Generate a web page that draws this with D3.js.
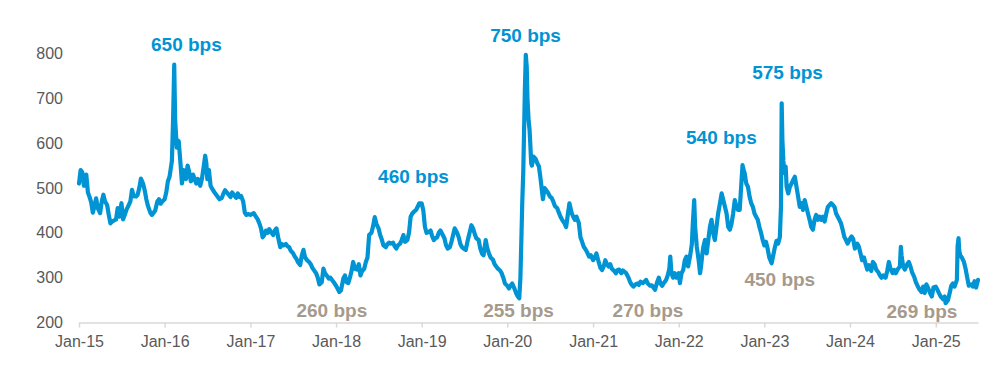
<!DOCTYPE html>
<html>
<head>
<meta charset="utf-8">
<script src="https://cdn.jsdelivr.net/npm/d3@7"></script>
<style>
  html, body { margin: 0; padding: 0; background: #ffffff; }
  svg { display: block; }
</style>
</head>
<body>
<svg id="chart" width="1000" height="375"></svg>
<script>
// ---------- DATA ----------
const dates = [
"2015-01-01","2015-01-08","2015-01-15","2015-01-22","2015-02-01","2015-02-08","2015-02-15","2015-02-22",
"2015-03-01","2015-03-08","2015-03-15","2015-03-22","2015-04-01","2015-04-08","2015-04-15","2015-04-22",
"2015-05-01","2015-05-08","2015-05-15","2015-05-22","2015-06-01","2015-06-08","2015-06-15","2015-06-22",
"2015-07-01","2015-07-08","2015-07-15","2015-07-22","2015-08-01","2015-08-08","2015-08-15","2015-08-22",
"2015-09-01","2015-09-08","2015-09-15","2015-09-22","2015-10-01","2015-10-08","2015-10-15","2015-10-22",
"2015-11-01","2015-11-08","2015-11-15","2015-11-22","2015-12-01","2015-12-08","2015-12-15","2015-12-22",
"2016-01-01","2016-01-08","2016-01-15","2016-01-22","2016-02-01","2016-02-06","2016-02-11","2016-02-15","2016-02-22",
"2016-03-01","2016-03-08","2016-03-15","2016-03-22","2016-04-01","2016-04-08","2016-04-15","2016-04-22",
"2016-05-01","2016-05-08","2016-05-15","2016-05-22","2016-06-01","2016-06-08","2016-06-15","2016-06-22","2016-06-27",
"2016-07-01","2016-07-08","2016-07-15","2016-07-22","2016-08-01","2016-08-08","2016-08-15","2016-08-22",
"2016-09-01","2016-09-08","2016-09-15","2016-09-22","2016-10-01","2016-10-08","2016-10-15","2016-10-22",
"2016-11-01","2016-11-08","2016-11-15","2016-11-22","2016-12-01","2016-12-08","2016-12-15","2016-12-22",
"2017-01-01","2017-01-08","2017-01-15","2017-01-22","2017-02-01","2017-02-08","2017-02-15","2017-02-22",
"2017-03-01","2017-03-08","2017-03-15","2017-03-22","2017-04-01","2017-04-08","2017-04-15","2017-04-22",
"2017-05-01","2017-05-08","2017-05-15","2017-05-22","2017-06-01","2017-06-08","2017-06-15","2017-06-22",
"2017-07-01","2017-07-08","2017-07-15","2017-07-22","2017-08-01","2017-08-08","2017-08-15","2017-08-22",
"2017-09-01","2017-09-08","2017-09-15","2017-09-22","2017-10-01","2017-10-08","2017-10-15","2017-10-22",
"2017-11-01","2017-11-08","2017-11-15","2017-11-22","2017-12-01","2017-12-08","2017-12-15","2017-12-22",
"2018-01-01","2018-01-08","2018-01-15","2018-01-22","2018-02-01","2018-02-08","2018-02-15","2018-02-22",
"2018-03-01","2018-03-08","2018-03-15","2018-03-22","2018-04-01","2018-04-08","2018-04-15","2018-04-22",
"2018-05-01","2018-05-08","2018-05-15","2018-05-22","2018-06-01","2018-06-08","2018-06-15","2018-06-22",
"2018-07-01","2018-07-08","2018-07-15","2018-07-22","2018-08-01","2018-08-08","2018-08-15","2018-08-22",
"2018-09-01","2018-09-08","2018-09-15","2018-09-22","2018-10-01","2018-10-08","2018-10-15","2018-10-22",
"2018-11-01","2018-11-08","2018-11-15","2018-11-22","2018-12-01","2018-12-08","2018-12-15","2018-12-22",
"2019-01-01","2019-01-08","2019-01-15","2019-01-22","2019-02-01","2019-02-08","2019-02-15","2019-02-22",
"2019-03-01","2019-03-08","2019-03-15","2019-03-22","2019-04-01","2019-04-08","2019-04-15","2019-04-22",
"2019-05-01","2019-05-08","2019-05-15","2019-05-22","2019-06-01","2019-06-08","2019-06-15","2019-06-22",
"2019-07-01","2019-07-08","2019-07-15","2019-07-22","2019-08-01","2019-08-08","2019-08-15","2019-08-22",
"2019-09-01","2019-09-08","2019-09-15","2019-09-22","2019-10-01","2019-10-08","2019-10-15","2019-10-22",
"2019-11-01","2019-11-08","2019-11-15","2019-11-22","2019-12-01","2019-12-08","2019-12-15","2019-12-22",
"2020-01-01","2020-01-08","2020-01-15","2020-01-22","2020-02-01","2020-02-08","2020-02-15","2020-02-21","2020-02-26",
"2020-03-01","2020-03-05","2020-03-09","2020-03-12","2020-03-16","2020-03-20","2020-03-24","2020-03-27",
"2020-04-01","2020-04-05","2020-04-08","2020-04-12","2020-04-15","2020-04-22",
"2020-05-01","2020-05-08","2020-05-15","2020-05-22","2020-06-01","2020-06-08","2020-06-15","2020-06-22",
"2020-07-01","2020-07-08","2020-07-15","2020-07-22","2020-08-01","2020-08-08","2020-08-15","2020-08-22",
"2020-09-01","2020-09-08","2020-09-15","2020-09-22","2020-10-01","2020-10-08","2020-10-15","2020-10-22",
"2020-11-01","2020-11-08","2020-11-15","2020-11-22","2020-12-01","2020-12-08","2020-12-15","2020-12-22",
"2021-01-01","2021-01-08","2021-01-15","2021-01-22","2021-02-01","2021-02-08","2021-02-15","2021-02-22",
"2021-03-01","2021-03-08","2021-03-15","2021-03-22","2021-04-01","2021-04-08","2021-04-15","2021-04-22",
"2021-05-01","2021-05-08","2021-05-15","2021-05-22","2021-06-01","2021-06-08","2021-06-15","2021-06-22",
"2021-07-01","2021-07-08","2021-07-15","2021-07-22","2021-08-01","2021-08-08","2021-08-15","2021-08-22",
"2021-09-01","2021-09-08","2021-09-15","2021-09-22","2021-10-01","2021-10-08","2021-10-15","2021-10-22",
"2021-11-01","2021-11-08","2021-11-15","2021-11-22","2021-11-26","2021-12-01","2021-12-08","2021-12-15","2021-12-22",
"2022-01-01","2022-01-06","2022-01-13","2022-01-20","2022-01-27","2022-02-03","2022-02-10","2022-02-19","2022-02-26",
"2022-03-02","2022-03-08","2022-03-12","2022-03-19","2022-03-27","2022-04-02","2022-04-06","2022-04-12","2022-04-16","2022-04-23","2022-04-30",
"2022-05-07","2022-05-14","2022-05-21","2022-05-28","2022-06-04","2022-06-11","2022-06-18","2022-06-26",
"2022-07-03","2022-07-10","2022-07-17","2022-07-24","2022-07-31","2022-08-07","2022-08-14","2022-08-21","2022-08-28",
"2022-09-04","2022-09-11","2022-09-18","2022-09-25","2022-09-30","2022-10-05","2022-10-09","2022-10-16","2022-10-23","2022-10-30",
"2022-11-06","2022-11-13","2022-11-20","2022-11-27","2022-12-04","2022-12-11","2022-12-18","2022-12-25",
"2023-01-01","2023-01-08","2023-01-15","2023-01-22","2023-02-01","2023-02-08","2023-02-15","2023-02-22",
"2023-03-01","2023-03-08","2023-03-13","2023-03-16","2023-03-19","2023-03-23","2023-03-27",
"2023-04-02","2023-04-06","2023-04-13","2023-04-20","2023-04-27","2023-05-04","2023-05-11","2023-05-18","2023-05-25",
"2023-06-01","2023-06-08","2023-06-15","2023-06-22","2023-06-29","2023-07-06","2023-07-13","2023-07-20","2023-07-27",
"2023-08-03","2023-08-10","2023-08-17","2023-08-24","2023-08-31","2023-09-08","2023-09-15","2023-09-22","2023-09-29",
"2023-10-06","2023-10-13","2023-10-20","2023-10-27","2023-11-03","2023-11-10","2023-11-17","2023-11-24",
"2023-12-01","2023-12-08","2023-12-15","2023-12-22","2023-12-29",
"2024-01-08","2024-01-15","2024-01-22","2024-02-01","2024-02-08","2024-02-15","2024-02-22",
"2024-03-01","2024-03-08","2024-03-15","2024-03-22","2024-04-01","2024-04-08","2024-04-15","2024-04-22",
"2024-05-01","2024-05-08","2024-05-15","2024-05-22","2024-06-01","2024-06-08","2024-06-15","2024-06-22",
"2024-07-01","2024-07-08","2024-07-15","2024-07-22","2024-08-01","2024-08-05","2024-08-08","2024-08-15","2024-08-22",
"2024-09-01","2024-09-08","2024-09-15","2024-09-22","2024-10-01","2024-10-08","2024-10-15","2024-10-22",
"2024-11-01","2024-11-08","2024-11-15","2024-11-22","2024-12-01","2024-12-08","2024-12-15","2024-12-22",
"2025-01-01","2025-01-08","2025-01-15","2025-01-22","2025-02-01","2025-02-08","2025-02-12","2025-02-22",
"2025-03-01","2025-03-08","2025-03-15","2025-03-22","2025-04-01","2025-04-04","2025-04-08","2025-04-11","2025-04-15","2025-04-22",
"2025-05-01","2025-05-08","2025-05-15","2025-05-22","2025-06-01","2025-06-08","2025-06-15","2025-06-22","2025-06-30"
];

const spreads = [
510,540,535,505,530,490,480,468,
445,460,477,455,444,470,485,470,
462,440,421,425,428,430,455,436,
466,430,440,451,462,470,496,482,
481,485,500,521,510,495,475,460,
445,440,445,450,470,475,465,470,
475,490,515,525,560,650,775,650,590,
605,560,510,540,520,550,535,515,
530,520,510,520,505,520,545,572,555,
520,540,505,498,490,485,480,475,
478,488,495,490,485,480,490,485,
478,488,480,482,470,445,440,442,
440,442,444,438,430,421,410,390,
395,405,400,408,400,395,405,410,
385,368,375,372,375,370,368,360,
355,348,343,335,328,350,362,345,
338,335,330,322,315,310,300,285,
290,320,310,305,298,300,295,290,
282,275,268,272,298,305,290,288,
300,315,335,320,318,330,305,315,
320,335,345,395,400,415,435,420,
410,395,385,372,368,375,378,376,
378,370,365,372,376,384,395,380,
384,400,436,443,448,451,458,466,
466,450,413,400,402,405,392,384,
388,390,400,405,395,388,372,365,
368,380,395,410,400,390,375,368,
364,362,380,395,417,410,398,388,
384,365,354,350,384,365,354,345,
340,330,325,320,316,310,300,287,
282,276,282,287,275,265,258,254,300,
384,470,533,610,718,797,770,700,
650,630,600,555,550,570,
565,555,548,520,475,500,495,490,
481,478,470,460,455,445,436,429,
421,413,440,466,445,436,429,436,
422,390,380,369,362,355,347,350,
339,345,354,340,322,317,325,339,
330,325,330,320,315,310,317,318,
310,316,313,310,300,290,284,280,
285,287,284,291,288,291,295,287,
282,283,278,273,290,300,287,282,
290,295,305,320,347,310,300,310,300,
310,288,310,317,339,347,325,350,375,
420,473,413,369,339,310,325,354,369,384,354,
384,413,429,399,384,413,443,466,
488,473,458,443,413,407,420,443,473,
458,451,451,510,551,540,533,510,503,481,
466,458,443,436,429,413,400,384,
372,380,365,345,332,350,368,382,
376,390,458,689,607,562,533,
548,503,488,503,510,518,525,503,481,
458,466,451,473,458,443,429,413,407,
429,440,429,436,429,436,425,443,458,
462,466,462,458,443,436,429,421,
407,391,384,376,384,
392,386,365,376,369,354,339,
345,330,318,328,315,335,330,318,
312,305,300,305,300,315,335,320,
310,317,310,318,325,369,350,325,318,
330,335,325,312,302,290,282,275,
268,280,266,285,275,265,258,278,
280,273,265,258,252,258,243,250,
265,282,287,280,295,370,388,360,350,345,
335,320,300,282,285,280,292,278,295
];

const yTicks = [200, 300, 400, 500, 600, 700, 800];
const xTickYears = ["2015","2016","2017","2018","2019","2020","2021","2022","2023","2024","2025"];
const xDomain = ["2015-01-01", "2025-06-30"];

// annotation labels: text, anchor date, anchor value (chart coordinates)
const peakLabels = ["650 bps", "750 bps", "460 bps", "540 bps", "575 bps"];
const peakDates  = ["2016-04-03", "2020-03-19", "2018-11-27", "2022-07-02", "2023-04-10"];
const peakValues = [805, 826, 511, 598, 743];
const troughLabels = ["260 bps", "255 bps", "270 bps", "450 bps", "269 bps"];
const troughDates  = ["2017-12-14", "2020-02-18", "2021-08-23", "2023-03-08", "2024-11-03"];
const troughValues = [212, 212, 212, 281, 211];

// ---------- DRAW ----------
const parse = d3.utcParse("%Y-%m-%d");
const data = dates.map((d, i) => ({ date: parse(d), value: spreads[i] }));

const svg = d3.select("#chart");
const FONT = "'Liberation Sans', Arial, Helvetica, sans-serif";
const BLUE = "#0094D4";
const TAN = "#A69A8C";

const x = d3.scaleUtc()
  .domain(xDomain.map(parse))
  .range([79, 978]);

const y = d3.scaleLinear()
  .domain([200, 800])
  .range([322.5, 53.5]);

// Y axis labels (no line)
const yAxis = d3.axisLeft(y).tickValues(yTicks).tickSize(0).tickPadding(0);
const gy = svg.append("g").attr("transform", "translate(63,0)").call(yAxis);
gy.select(".domain").remove();
gy.selectAll("text")
  .attr("font-family", FONT)
  .attr("font-size", 16)
  .attr("fill", "#595959");

// X axis
const xTicks = xTickYears.map(yr => parse(yr + "-01-01"));
const xAxis = d3.axisBottom(x)
  .tickValues(xTicks)
  .tickSize(5)
  .tickSizeOuter(0)
  .tickPadding(8)
  .tickFormat(d3.utcFormat("%b-%y"));
const gx = svg.append("g").attr("transform", "translate(0,322.5)").call(xAxis);
gx.select(".domain").attr("stroke", "#D9D9D9").attr("stroke-width", 1.5);
gx.selectAll(".tick line").attr("stroke", "#D9D9D9").attr("stroke-width", 1.5);
gx.selectAll("text")
  .attr("font-family", FONT)
  .attr("font-size", 16)
  .attr("fill", "#595959");

// Line
const line = d3.line()
  .x(d => x(d.date))
  .y(d => y(d.value));

svg.append("path")
  .datum(data)
  .attr("fill", "none")
  .attr("stroke", BLUE)
  .attr("stroke-width", 4.2)
  .attr("stroke-linejoin", "round")
  .attr("stroke-linecap", "round")
  .attr("d", line);

// Annotations
function addLabels(texts, ds, vs, color) {
  svg.append("g").selectAll("text")
    .data(texts)
    .join("text")
    .attr("x", (t, i) => x(parse(ds[i])))
    .attr("y", (t, i) => y(vs[i]))
    .attr("text-anchor", "middle")
    .attr("font-family", FONT)
    .attr("font-weight", "bold")
    .attr("font-size", 19)
    .attr("fill", color)
    .text(t => t);
}
addLabels(peakLabels, peakDates, peakValues, BLUE);
addLabels(troughLabels, troughDates, troughValues, TAN);
</script>
</body>
</html>
